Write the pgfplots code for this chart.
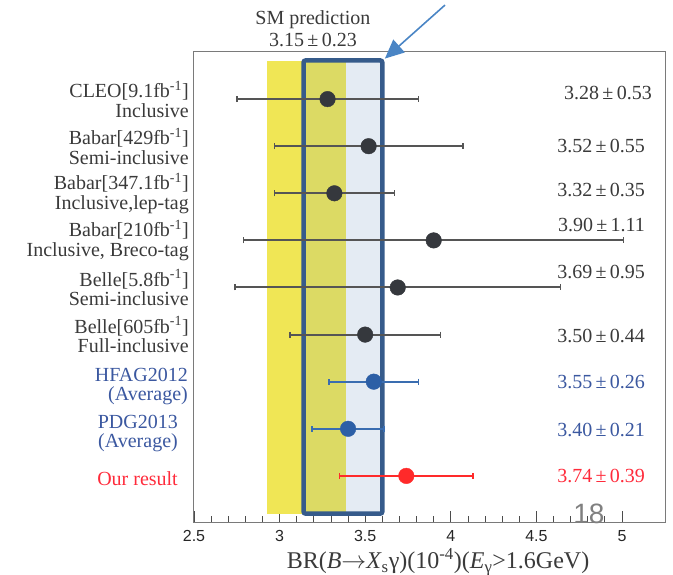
\documentclass[border=0pt]{standalone}
\usepackage{pgfplots}
\pgfplotsset{compat=1.18}
\usepackage{pgfplotstable}
\usetikzlibrary{arrows.meta}
\usepackage{fontspec}
\setmainfont{Liberation Serif}
\newfontfamily\arial{Liberation Sans}
\definecolor{bandyellow}{HTML}{F0E655}
\definecolor{bandolive}{HTML}{DCDA64}
\definecolor{bandblue}{HTML}{E4EBF3}
\definecolor{boxnavy}{HTML}{365B8B}
\definecolor{darkmk}{HTML}{35383D}
\definecolor{errgray}{HTML}{555555}
\definecolor{mkblue}{HTML}{2C5FA6}
\definecolor{errblue}{HTML}{3A6DB0}
\definecolor{lblblue}{HTML}{3B58A0}
\definecolor{mkred}{HTML}{FF2A2A}
\definecolor{lblred}{HTML}{FF2B3B}
\definecolor{txtgray}{HTML}{3A3A3A}
\definecolor{axisgray}{HTML}{7A7A7A}
\definecolor{arrowblue}{HTML}{4A85C5}

\pgfplotstableread{
x y e
3.28 9 0.53
3.52 8 0.55
3.32 7 0.35
3.90 6 1.11
3.69 5 0.95
3.50 4 0.44
}\expdata
\pgfplotstableread{
x y e
3.55 3 0.26
3.40 2 0.21
}\avgdata
\pgfplotstableread{
x y e
3.74 1 0.39
}\ourdata

\begin{document}
\begin{tikzpicture}
\useasboundingbox (-194pt,-52pt) rectangle (479pt,523pt);
\begin{axis}[
  at={(0pt,0pt)}, anchor=south west,
  scale only axis, width=472pt, height=471pt,
  xmin=2.5, xmax=5.257, ymin=0, ymax=10,
  xtick={2.5,3,3.5,4,4.5,5},
  minor x tick num=4,
  xtick pos=bottom, ytick=\empty,
  tick align=inside,
  major tick length=12pt, minor tick length=7pt,
  tick style={draw=black!70, line width=0.8pt},
  xticklabel style={font=\arial\fontsize{16}{16}\selectfont, text=black!85, yshift=-4pt},
  /pgf/number format/assume math mode=true,
  axis line style={draw=axisgray, line width=1pt},
  clip=false,
  xlabel={BR(\textit{B}$\rightarrow$\textit{X}\textsubscript{s}γ)(10\textsuperscript{-4})(\textit{E}\textsubscript{γ}>1.6GeV)},
  xlabel style={font=\fontsize{24}{24}\selectfont, text=txtgray, at={(axis description cs:0.517,0)}, anchor=center, yshift=-39pt},
  error bars/error mark=|,
]
% SM band and box
\addplot[draw=none, fill=bandyellow] coordinates {(2.925,0.2) (3.14,0.2) (3.14,9.8) (2.925,9.8)} -- cycle;
\addplot[draw=none, fill=bandolive] coordinates {(3.14,0.2) (3.385,0.2) (3.385,9.8) (3.14,9.8)} -- cycle;
\addplot[draw=none, fill=bandblue] coordinates {(3.385,0.2) (3.60,0.2) (3.60,9.8) (3.385,9.8)} -- cycle;
\addplot[draw=boxnavy, line width=4.5pt, mark=none, rounded corners=2pt] coordinates {(3.14,0.2) (3.60,0.2) (3.60,9.82) (3.14,9.82)} -- cycle;

\addplot[only marks, mark=*, mark size=7.8pt, color=darkmk,
  error bars/.cd, x dir=both, x explicit, error mark=|,
  error bar style={line width=2pt, color=errgray},
  error mark options={mark size=3pt, line width=1.5pt, color=errgray}]
  table[x=x, y=y, x error=e] {\expdata};
\addplot[only marks, mark=*, mark size=7.8pt, color=mkblue,
  error bars/.cd, x dir=both, x explicit, error mark=|,
  error bar style={line width=1.8pt, color=errblue},
  error mark options={mark size=3pt, line width=1.5pt, color=errblue}]
  table[x=x, y=y, x error=e] {\avgdata};
\addplot[only marks, mark=*, mark size=7.8pt, color=mkred,
  error bars/.cd, x dir=both, x explicit, error mark=|,
  error bar style={line width=1.8pt, color=mkred},
  error mark options={mark size=3pt, line width=1.5pt, color=mkred}]
  table[x=x, y=y, x error=e] {\ourdata};

% left labels
\begin{scope}[every node/.style={anchor=east, align=right, font=\fontsize{20}{19.5}\selectfont, inner sep=0pt}]
\node[text=txtgray] at ([xshift=-5pt]axis cs:2.5,9) {CLEO[9.1fb\textsuperscript{-1}]\\Inclusive};
\node[text=txtgray] at ([xshift=-5pt]axis cs:2.5,8) {Babar[429fb\textsuperscript{-1}]\\Semi-inclusive};
\node[text=txtgray] at ([xshift=-5pt]axis cs:2.5,7) {Babar[347.1fb\textsuperscript{-1}]\\Inclusive,lep-tag};
\node[text=txtgray] at ([xshift=-5pt]axis cs:2.5,6) {Babar[210fb\textsuperscript{-1}]\\Inclusive, Breco-tag};
\node[text=txtgray] at ([xshift=-5pt]axis cs:2.5,5) {Belle[5.8fb\textsuperscript{-1}]\\Semi-inclusive};
\node[text=txtgray] at ([xshift=-5pt]axis cs:2.5,4) {Belle[605fb\textsuperscript{-1}]\\Full-inclusive};
\node[text=lblblue] at ([xshift=-6pt]axis cs:2.5,2.9) {HFAG2012\\(Average)};
\node[text=lblblue] at ([xshift=-16pt]axis cs:2.5,1.9) {PDG2013\\(Average)};
\node[text=lblred] at ([xshift=-16pt]axis cs:2.5,0.95) {Our result};
\end{scope}

% right values
\begin{scope}[every node/.style={anchor=east, font=\fontsize{20}{20}\selectfont, inner sep=0pt}]
\node[text=txtgray] at (axis cs:5.175,9.13) {3.28\,±\,0.53};
\node[text=txtgray] at (axis cs:5.135,8.0) {3.52\,±\,0.55};
\node[text=txtgray] at (axis cs:5.135,7.06) {3.32\,±\,0.35};
\node[text=txtgray] at (axis cs:5.135,6.32) {3.90\,±\,1.11};
\node[text=txtgray] at (axis cs:5.135,5.32) {3.69\,±\,0.95};
\node[text=txtgray] at (axis cs:5.135,3.97) {3.50\,±\,0.44};
\node[text=lblblue] at (axis cs:5.135,3.0) {3.55\,±\,0.26};
\node[text=lblblue] at (axis cs:5.135,1.98) {3.40\,±\,0.21};
\node[text=lblred] at (axis cs:5.135,1.0) {3.74\,±\,0.39};
\end{scope}

% title and arrow
\node[align=center, font=\fontsize{20}{22}\selectfont, text=txtgray] at (axis cs:3.195,10.49) {SM prediction\\3.15\,±\,0.23};
\draw[-{Triangle[length=19pt,width=17pt]}, arrowblue, line width=1.6pt] (axis cs:3.966,10.996) -- (axis cs:3.615,9.86);
\node[text=black!50, font=\arial\fontsize{28}{28}\selectfont] at (axis cs:4.807,0.19) {18};
\end{axis}
\end{tikzpicture}
\end{document}
